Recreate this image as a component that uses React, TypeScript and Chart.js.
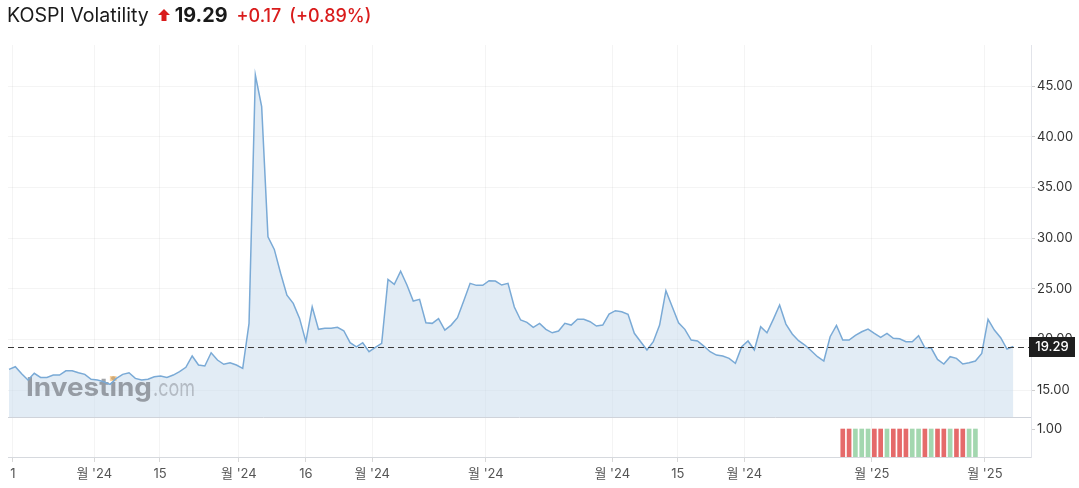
import React, { useEffect, useRef } from 'react';
import { Chart, registerables } from 'chart.js';

Chart.register(...registerables);

// ---- data ----
const titleName = 'KOSPI Volatility';
const lastPrice = 19.29;
const changeAbs = '+0.17';
const changePct = '(+0.89%)';

const values = [
  17.04, 17.30, 16.60, 15.99, 16.65, 16.25, 16.25, 16.48, 16.48, 16.90,
  16.90, 16.71, 16.55, 16.06, 15.99, 15.82, 15.56, 16.15, 16.55, 16.71,
  16.15, 15.99, 16.06, 16.31, 16.38, 16.25, 16.48, 16.81, 17.24, 18.36,
  17.47, 17.37, 18.68, 17.96, 17.54, 17.69, 17.47, 17.14, 21.58, 46.09,
  42.96, 30.13, 28.88, 26.52, 24.37, 23.55, 22.07, 19.77, 23.22, 20.99,
  21.09, 21.09, 21.19, 20.85, 19.67, 19.27, 19.67, 18.78, 19.21, 19.61,
  25.92, 25.43, 26.72, 25.36, 23.78, 23.95, 21.64, 21.58, 22.04, 20.92,
  21.41, 22.14, 23.81, 25.53, 25.33, 25.33, 25.79, 25.76, 25.36, 25.53,
  23.19, 21.91, 21.68, 21.19, 21.58, 20.99, 20.65, 20.82, 21.58, 21.41,
  21.98, 21.98, 21.74, 21.32, 21.41, 22.50, 22.83, 22.73, 22.47, 20.60,
  19.77, 18.95, 19.77, 21.41, 24.80, 23.22, 21.64, 20.99, 19.93, 19.84,
  19.34, 18.78, 18.45, 18.36, 18.13, 17.64, 19.27, 19.84, 18.95, 21.25,
  20.65, 21.98, 23.39, 21.51, 20.53, 19.87, 19.44, 18.88, 18.29, 17.86,
  20.26, 21.38, 19.93, 19.93, 20.40, 20.75, 21.02, 20.60, 20.20, 20.60,
  20.10, 20.06, 19.77, 19.77, 20.36, 19.17, 19.14, 18.02, 17.57, 18.29,
  18.13, 17.57, 17.69, 17.86, 18.62, 21.98, 20.92, 20.16, 19.05, 19.29,
];

const volumeIdx = [132, 133, 134, 135, 136, 137, 138, 139, 140, 141, 142, 143, 144, 145, 146, 147, 148, 149, 150, 151, 152, 153];
const volumeVals = [1, 1, 1, 1, 1, 1, 1, 1, 1, 1, 1, 1, 1, 1, 1, 1, 1, 1, 1, 1, 1, 1];
const volumeUp = [0, 0, 1, 1, 1, 0, 0, 1, 0, 0, 0, 1, 1, 0, 1, 0, 0, 1, 0, 0, 1, 1];

const xTickPos = [0.6, 13.5, 23.9, 36.4, 47.0, 57.5, 75.5, 95.5, 105.9, 116.4, 136.6, 154.5];
const xTickLabels = ['1', "월 '24", '15', "월 '24", '16', "월 '24", "월 '24", "월 '24", '15', "월 '24", "월 '25", "월 '25"];
const yTicks = [15, 20, 25, 30, 35, 40, 45];
const volTicks = [1];

// ---- style ----
const FONT = 'Inter, "Noto Sans CJK KR", "Noto Sans", sans-serif';
const RED = '#d91c1c';

const watermarkPlugin = {
  id: 'watermark',
  beforeDatasetDraw(chart: any, args: any) {
    if (args.index !== 0) return;
    const ctx = chart.ctx;
    ctx.save();
    ctx.textBaseline = 'alphabetic';
    ctx.font = `bold 25px ${FONT}`;
    const w1 = ctx.measureText('Investing').width;
    ctx.translate(26, 396);
    ctx.scale(126 / w1, 1);
    ctx.fillStyle = 'rgba(105,108,115,0.62)';
    ctx.fillText('Investing', 0, 0);
    const wPre = ctx.measureText('Invest').width;
    const wI = ctx.measureText('i').width;
    ctx.fillStyle = 'rgba(245,175,80,0.55)';
    ctx.fillRect(wPre + wI / 2 - 3, -20, 6, 5);
    ctx.restore();
    ctx.save();
    ctx.font = `24px ${FONT}`;
    const w2 = ctx.measureText('.com').width;
    ctx.translate(153, 396);
    ctx.scale(42 / w2, 1);
    ctx.fillStyle = 'rgba(105,108,115,0.38)';
    ctx.fillText('.com', 0, 0);
    ctx.restore();
  },
};

const overlayPlugin = {
  id: 'overlay',
  afterDatasetsDraw(chart: any) {
    const ctx = chart.ctx;
    const y = chart.scales.y;
    const area = chart.chartArea;
    ctx.save();
    ctx.strokeStyle = '#cfd3da';
    ctx.lineWidth = 1;
    ctx.beginPath();
    ctx.moveTo(area.left, Math.round(y.bottom) + 0.5);
    ctx.lineTo(area.right, Math.round(y.bottom) + 0.5);
    ctx.stroke();
    const py = Math.round(y.getPixelForValue(lastPrice)) + 0.5;
    ctx.strokeStyle = '#3a3a3a';
    ctx.setLineDash([6, 4]);
    ctx.beginPath();
    ctx.moveTo(area.left, py);
    ctx.lineTo(area.right, py);
    ctx.stroke();
    ctx.restore();
  },
  afterDraw(chart: any) {
    const ctx = chart.ctx;
    const y = chart.scales.y;
    const py = y.getPixelForValue(lastPrice);
    ctx.save();
    ctx.fillStyle = '#1e1e1e';
    ctx.fillRect(1029, Math.round(py) - 10, 46, 20);
    ctx.fillStyle = '#ffffff';
    ctx.font = `500 13px ${FONT}`;
    ctx.textAlign = 'center';
    ctx.textBaseline = 'middle';
    ctx.fillText(lastPrice.toFixed(2), 1052, Math.round(py) + 0.5);
    ctx.restore();
  },
};

export default function App() {
  const ref = useRef<HTMLCanvasElement>(null);

  useEffect(() => {
    if (!ref.current) return;
    const lineData = values.map((v, i) => ({ x: i, y: v }));
    const volData = volumeIdx.map((x, k) => ({ x, y: volumeVals[k] }));
    const volColors = volumeUp.map((u) => (u ? 'rgba(140,205,155,0.8)' : 'rgba(225,80,80,0.85)'));

    const chart = new Chart(ref.current, {
      type: 'line',
      data: {
        datasets: [
          {
            type: 'line',
            data: lineData,
            xAxisID: 'x',
            yAxisID: 'y',
            borderColor: '#7aaad6',
            borderWidth: 1.5,
            backgroundColor: 'rgba(197,217,236,0.5)',
            fill: 'start',
            pointRadius: 0,
            tension: 0,
          } as any,
          {
            type: 'bar',
            data: volData,
            xAxisID: 'x',
            yAxisID: 'yVol',
            backgroundColor: volColors,
            barThickness: 4,
          } as any,
        ],
      },
      options: {
        responsive: false,
        animation: false,
        devicePixelRatio: 1,
        layout: { padding: { left: 8, top: 45, right: 0, bottom: 0 } },
        plugins: {
          legend: { display: false },
          tooltip: { enabled: false },
          title: { display: false },
        },
        scales: {
          x: {
            type: 'linear',
            offset: false,
            min: -0.16,
            max: 161.8,
            afterBuildTicks: (scale: any) => {
              scale.ticks = xTickPos.map((v) => ({ value: v }));
            },
            afterFit: (scale: any) => {
              scale.height = 31;
            },
            ticks: {
              autoSkip: false,
              maxRotation: 0,
              color: '#555',
              font: { family: FONT, size: 13 },
              padding: 4,
              callback: (_v: any, i: number) => xTickLabels[i],
            },
            grid: {
              offset: false,
              color: 'rgba(0,0,0,0.045)',
              tickColor: '#d8d8d8',
              tickLength: 5,
            },
            border: { display: true, color: '#d6d9de' },
          },
          y: {
            type: 'linear',
            position: 'right',
            stack: 'pane',
            stackWeight: 372,
            min: 12.34,
            max: 49.05,
            afterBuildTicks: (scale: any) => {
              scale.ticks = yTicks.map((v) => ({ value: v }));
            },
            afterFit: (scale: any) => {
              scale.width = 48;
            },
            ticks: {
              color: '#333',
              font: { family: FONT, size: 13 },
              padding: 2,
              callback: (v: any) => Number(v).toFixed(2),
            },
            grid: {
              color: 'rgba(0,0,0,0.045)',
              tickColor: '#cfcfcf',
              tickLength: 4,
            },
            border: { display: true, color: '#e2e4ea' },
          },
          yVol: {
            type: 'linear',
            position: 'right',
            stack: 'pane',
            stackWeight: 40,
            min: 0,
            max: 1.43,
            afterBuildTicks: (scale: any) => {
              scale.ticks = volTicks.map((v) => ({ value: v }));
            },
            afterFit: (scale: any) => {
              scale.width = 48;
            },
            ticks: {
              color: '#333',
              font: { family: FONT, size: 13 },
              padding: 2,
              callback: (v: any) => Number(v).toFixed(2),
            },
            grid: {
              drawOnChartArea: false,
              tickColor: '#cfcfcf',
              tickLength: 4,
            },
            border: { display: true, color: '#e2e4ea' },
          },
        },
      } as any,
      plugins: [watermarkPlugin, overlayPlugin],
    });
    return () => chart.destroy();
  }, []);

  return (
    <div style={{ position: 'fixed', left: 0, top: 0, width: 1079, height: 488, background: '#fff', overflow: 'hidden' }}>
      <canvas ref={ref} width={1079} height={488} style={{ display: 'block' }} />
      <div
        style={{
          position: 'absolute',
          left: 7,
          top: 2,
          height: 26,
          display: 'flex',
          alignItems: 'center',
          whiteSpace: 'nowrap',
          fontFamily: FONT,
          color: '#1a1a1a',
        }}
      >
        <span style={{ fontSize: 19.6 }}>{titleName}</span>
        <svg width="12" height="12" viewBox="0 0 12 12" style={{ marginLeft: 9 }}>
          <polygon points="6,0 12,6 8.5,6 8.5,12 3.5,12 3.5,6 0,6" fill={RED} />
        </svg>
        <span style={{ fontSize: 19.8, fontWeight: 700, marginLeft: 5 }}>{lastPrice.toFixed(2)}</span>
        <span style={{ fontSize: 18, color: RED, marginLeft: 9, fontWeight: 500 }}>{changeAbs}</span>
        <span style={{ fontSize: 18, color: RED, marginLeft: 8, fontWeight: 500 }}>{changePct}</span>
      </div>
    </div>
  );
}
